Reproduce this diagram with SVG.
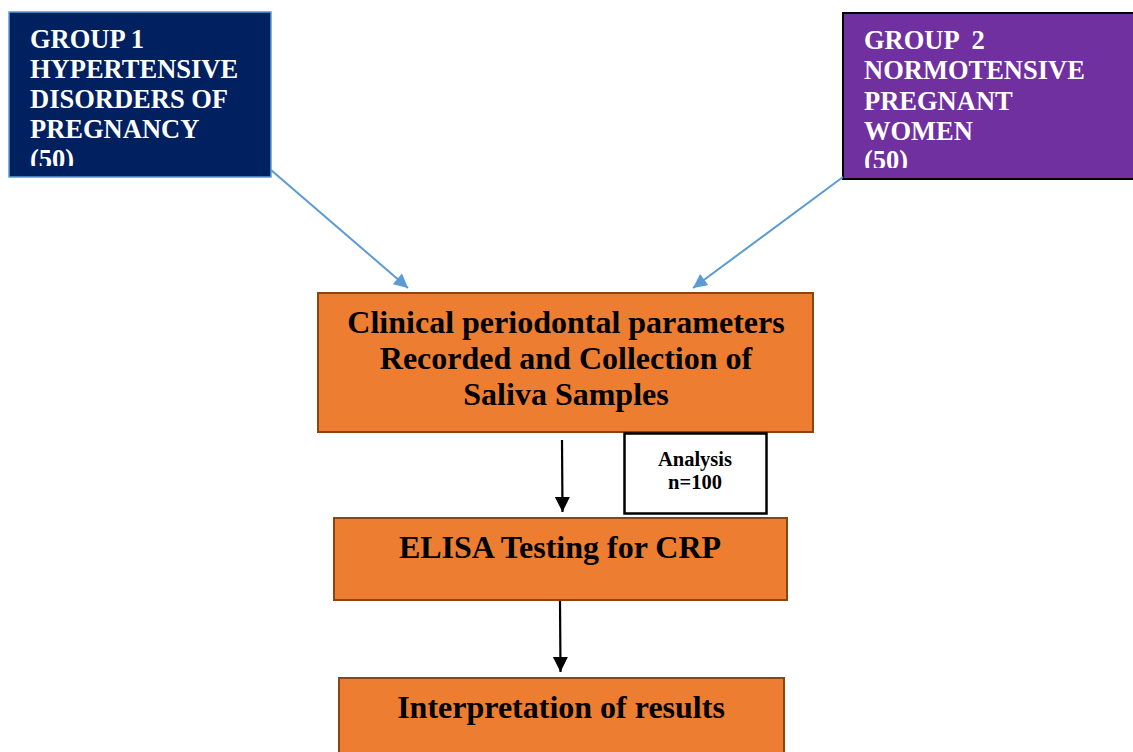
<svg xmlns="http://www.w3.org/2000/svg" width="1133" height="752" viewBox="0 0 1133 752">
<style>
.t{font-family:"Liberation Serif","Times New Roman",serif;font-weight:bold}
.w{fill:#fff;font-size:26.5px}
.o{fill:#ED7D31;stroke:#8B4513;stroke-width:2}
.b{fill:#000;font-size:32px;text-anchor:middle}
.blue{stroke:#5B9BD5;stroke-width:2;fill:none}
.blk{stroke:#000;stroke-width:2.2;fill:none}
</style>
<defs>
<marker id="ab" viewBox="0 0 10 10" refX="10" refY="5" markerWidth="15" markerHeight="14" markerUnits="userSpaceOnUse" orient="auto"><path d="M0,0 L10,5 L0,10 z" fill="#5B9BD5"/></marker>
<marker id="ak" viewBox="0 0 10 10" refX="10" refY="5" markerWidth="15" markerHeight="16" markerUnits="userSpaceOnUse" orient="auto"><path d="M0,0 L10,5 L0,10 z" fill="#000"/></marker>
<clipPath id="c1"><rect x="9" y="12" width="262" height="154"/></clipPath>
<clipPath id="c2"><rect x="843" y="13" width="290" height="155"/></clipPath>
</defs>
<g id="group1">
<rect x="9" y="12" width="262" height="165" fill="#002060" stroke="#5B9BD5" stroke-width="1.5"/>
<text class="t w" clip-path="url(#c1)"><tspan x="30" y="48">GROUP 1</tspan><tspan x="30" y="78">HYPERTENSIVE</tspan><tspan x="30" y="108">DISORDERS OF</tspan><tspan x="30" y="138">PREGNANCY</tspan><tspan x="30" y="168">(50)</tspan></text>
</g>
<g id="group2">
<rect x="843" y="13" width="300" height="166" fill="#7030A0" stroke="#000" stroke-width="2"/>
<text class="t w" clip-path="url(#c2)" xml:space="preserve"><tspan x="864" y="49">GROUP  2</tspan><tspan x="864" y="79">NORMOTENSIVE</tspan><tspan x="864" y="110">PREGNANT</tspan><tspan x="864" y="140">WOMEN</tspan><tspan x="864" y="169">(50)</tspan></text>
</g>
<g id="clinical">
<rect class="o" x="318" y="293" width="495" height="139"/>
<text class="t b"><tspan x="566" y="333">Clinical periodontal parameters</tspan><tspan x="566" y="369">Recorded and Collection of</tspan><tspan x="566" y="405">Saliva Samples</tspan></text>
</g>
<g id="analysis">
<rect x="624.5" y="433.5" width="142" height="80" fill="#fff" stroke="#000" stroke-width="2.5"/>
<text class="t" font-size="20.5" text-anchor="middle"><tspan x="695" y="466">Analysis</tspan><tspan x="695" y="489">n=100</tspan></text>
</g>
<g id="elisa">
<rect class="o" x="334" y="518" width="453" height="82"/>
<text class="t b" x="560" y="558">ELISA Testing for CRP</text>
</g>
<g id="interpretation">
<rect class="o" x="339" y="678" width="445" height="90"/>
<text class="t b" x="561" y="718">Interpretation of results</text>
</g>
<g id="connectors">
<line class="blue" x1="271" y1="170" x2="408" y2="288" marker-end="url(#ab)"/>
<line class="blue" x1="843" y1="177" x2="693" y2="288" marker-end="url(#ab)"/>
<line class="blk" x1="562" y1="440" x2="562.5" y2="512" marker-end="url(#ak)"/>
<line class="blk" x1="560" y1="601" x2="560.5" y2="672" marker-end="url(#ak)"/>
</g>
</svg>
